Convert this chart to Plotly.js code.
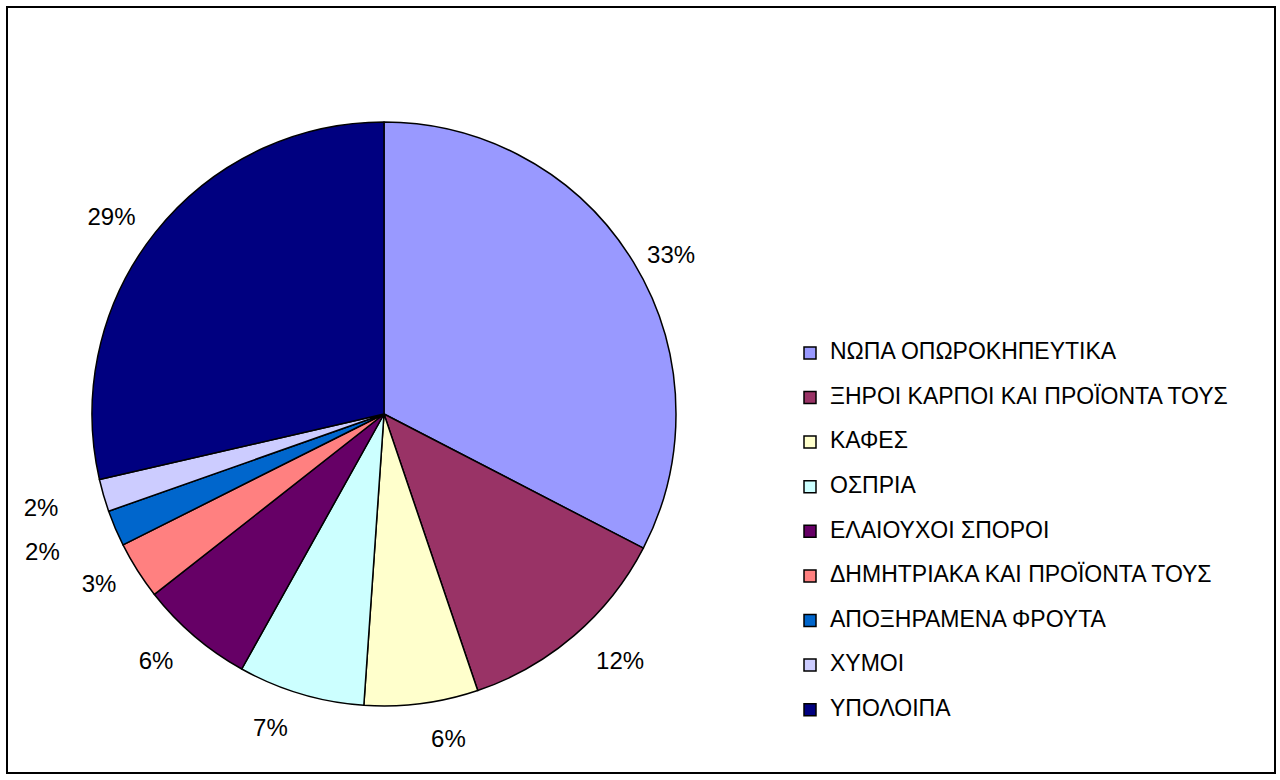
<!DOCTYPE html>
<html>
<head>
<meta charset="utf-8">
<script src="https://cdn.plot.ly/plotly-3.0.1.min.js"></script>
<style>
  html, body { margin: 0; padding: 0; background: #ffffff; }
  #chart { width: 1280px; height: 780px; }
</style>
</head>
<body>
<div id="chart"></div>
<script>
// Categories (legend labels)
var categories = [
  "ΝΩΠΑ ΟΠΩΡΟΚΗΠΕΥΤΙΚΑ",
  "ΞΗΡΟΙ ΚΑΡΠΟΙ ΚΑΙ ΠΡΟΪΟΝΤΑ ΤΟΥΣ",
  "ΚΑΦΕΣ",
  "ΟΣΠΡΙΑ",
  "ΕΛΑΙΟΥΧΟΙ ΣΠΟΡΟΙ",
  "ΔΗΜΗΤΡΙΑΚΑ ΚΑΙ ΠΡΟΪΟΝΤΑ ΤΟΥΣ",
  "ΑΠΟΞΗΡΑΜΕΝΑ ΦΡΟΥΤΑ",
  "ΧΥΜΟΙ",
  "ΥΠΟΛΟΙΠΑ"
];

// Shares (%)
var shares = [32.6, 12.2, 6.3, 7.0, 6.3, 3.2, 2.0, 1.8, 28.6];

// Slice colours
var colors = [
  "#9999FF", "#993366", "#FFFFCC", "#CCFFFF", "#660066",
  "#FF8080", "#0066CC", "#CCCCFF", "#000080"
];

var W = 1280, H = 780;
var FONT = "Liberation Sans, Arial, sans-serif";
var CX = 384, CY = 414, R = 292;      // pie centre / radius (px)
var RL = 300;                          // base radius of the label ring (px)
// extra outward offset of each percentage label (px) - styling only
var labelOffsetPx = [0, 15, 14, 14, 14, 9, 45, 32, 9];

// legend labels: larger displayed text, extra blank line for row spacing
var legendLabels = categories.map(function (c) {
  return '<span style="font-size:23px">' + c + '</span><br> ';
});

function dom(r) {
  return {
    x: [(CX - r) / W, (CX + r) / W],
    y: [(H - CY - r) / H, (H - CY + r) / H]
  };
}

// visible pie (slices + legend)
var pieTrace = {
  type: "pie",
  labels: legendLabels,
  values: shares,
  sort: false,
  direction: "clockwise",
  rotation: 0,
  marker: { colors: colors, line: { color: "#000000", width: 1.5 } },
  textinfo: "none",
  hoverinfo: "none",
  automargin: false,
  domain: dom(R)
};

// transparent ring carrying the percentage labels a little further out
var pulls = labelOffsetPx.map(function (p) { return p / RL; });
var maxPull = Math.max.apply(null, pulls);
var labelTrace = {
  type: "pie",
  labels: categories,
  values: shares,
  sort: false,
  direction: "clockwise",
  rotation: 0,
  pull: pulls,
  showlegend: false,
  marker: { colors: categories.map(function () { return "rgba(0,0,0,0)"; }),
            line: { color: "rgba(0,0,0,0)", width: 0 } },
  textposition: "outside",
  texttemplate: "%{percent:.0%}",
  outsidetextfont: { family: FONT, size: 24, color: "#000000" },
  textfont: { family: FONT, size: 24, color: "#000000" },
  hoverinfo: "none",
  automargin: false,
  domain: dom(RL * (1 + maxPull))
};

var layout = {
  width: W,
  height: H,
  margin: { l: 0, r: 0, t: 0, b: 0, pad: 0 },
  paper_bgcolor: "#ffffff",
  plot_bgcolor: "#ffffff",
  font: { family: FONT, color: "#000000" },
  showlegend: true,
  legend: {
    x: 790 / W,
    xanchor: "left",
    y: 1 - 336 / H,
    yanchor: "top",
    valign: "top",
    font: { family: FONT, size: 16, color: "#000000" },
    bgcolor: "rgba(0,0,0,0)",
    borderwidth: 0
  },
  shapes: [{
    type: "rect",
    xref: "paper", yref: "paper",
    x0: 7 / W, x1: 1275 / W,
    y0: 1 - 773 / H, y1: 1 - 7 / H,
    line: { color: "#000000", width: 2 },
    fillcolor: "rgba(0,0,0,0)"
  }]
};

Plotly.newPlot("chart", [pieTrace, labelTrace], layout, { staticPlot: true, displayModeBar: false });
</script>
</body>
</html>
